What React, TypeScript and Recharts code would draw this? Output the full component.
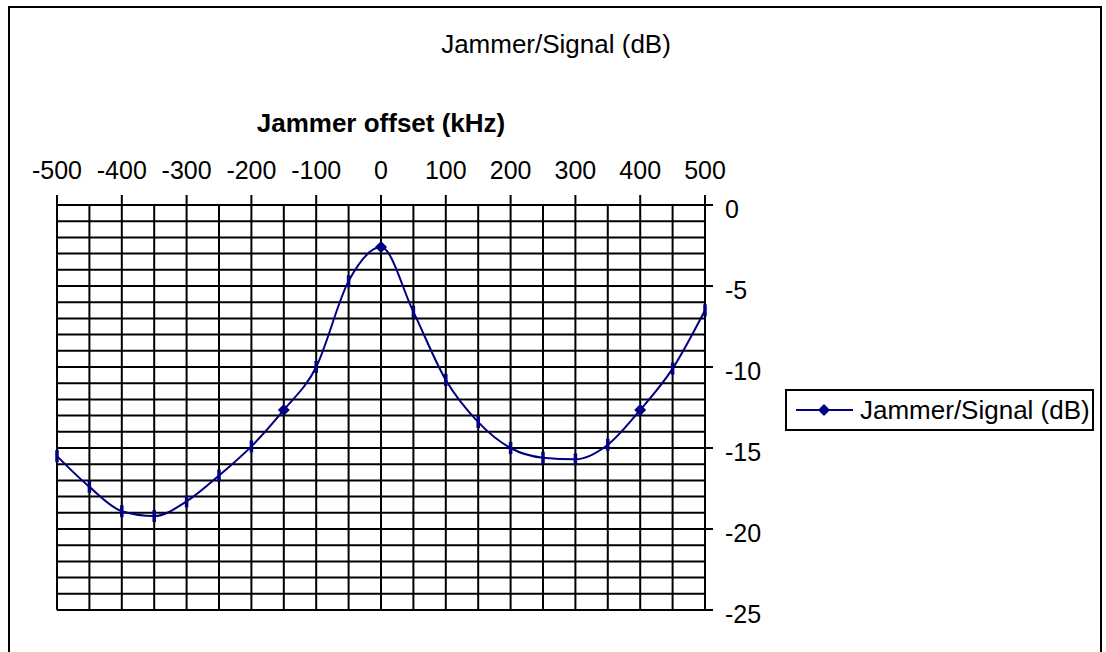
import { LineChart, Line, XAxis, YAxis, CartesianGrid } from "recharts";

// Jammer offset (kHz), one point every 50 kHz
const offsetKHz = [
  -500, -450, -400, -350, -300, -250, -200, -150, -100, -50, 0, 50, 100, 150,
  200, 250, 300, 350, 400, 450, 500,
];
const jammerSignalDb = [
  -15.5, -17.4, -18.9, -19.2, -18.3, -16.7, -14.9, -12.65, -10.0, -4.7, -2.6,
  -6.6, -10.8, -13.4, -15.0, -15.6, -15.7, -14.8, -12.65, -10.1, -6.5,
];

const xTicks = [-500, -400, -300, -200, -100, 0, 100, 200, 300, 400, 500];
const yTicks = [0, -5, -10, -15, -20, -25];
const yGridValues = [
  0, -1, -2, -3, -4, -5, -6, -7, -8, -9, -10, -11, -12, -13, -14, -15, -16,
  -17, -18, -19, -20, -21, -22, -23, -24, -25,
];

const SERIES_NAME = "Jammer/Signal (dB)";
const NAVY = "#000080";
const FONT = "'Liberation Sans', Arial, Helvetica, sans-serif";

// points that Excel drew with a full diamond, the rest look like dashes
const diamondAt = [-150, 0, 400];

const data = offsetKHz.map((x, i) => ({ offset: x, value: jammerSignalDb[i] }));

function renderDot(props: any) {
  const { cx, cy, payload, index } = props;
  if (cx == null || cy == null) return <g key={index} />;
  if (diamondAt.includes(payload.offset)) {
    return (
      <path
        key={index}
        d={`M${cx},${cy - 6}L${cx + 6},${cy}L${cx},${cy + 6}L${cx - 6},${cy}Z`}
        fill={NAVY}
      />
    );
  }
  return (
    <line
      key={index}
      x1={cx}
      x2={cx}
      y1={cy - 6}
      y2={cy + 6}
      stroke={NAVY}
      strokeWidth={3.5}
    />
  );
}

export default function App() {
  return (
    <div
      style={{
        position: "absolute",
        left: 0,
        top: 0,
        width: 1106,
        height: 652,
        overflow: "hidden",
        background: "#fff",
        fontFamily: FONT,
        color: "#000",
      }}
    >
      <div
        style={{
          position: "absolute",
          left: 8,
          top: 6,
          width: 1094,
          height: 700,
          border: "2px solid #000",
          boxSizing: "border-box",
        }}
      />
      <div
        style={{
          position: "absolute",
          left: 256,
          top: 29,
          width: 600,
          lineHeight: "30px",
          fontSize: 26,
          textAlign: "center",
        }}
      >
        {SERIES_NAME}
      </div>

      <LineChart
        width={1106}
        height={652}
        data={data}
        margin={{ top: 145, right: 321, bottom: 42, left: 57 }}
        style={{ position: "absolute", left: 0, top: 0 }}
      >
        <CartesianGrid
          stroke="#000"
          strokeWidth={2}
          verticalValues={offsetKHz}
          horizontalValues={yGridValues}
        />
        <XAxis
          dataKey="offset"
          type="number"
          orientation="top"
          domain={[-500, 500]}
          ticks={xTicks}
          interval={0}
          height={60}
          tickSize={10}
          tickMargin={16}
          axisLine={{ stroke: "#000", strokeWidth: 2 }}
          tickLine={{ stroke: "#000", strokeWidth: 2 }}
          tick={{ fill: "#000", fontSize: 25 }}
          label={{
            value: "Jammer offset (kHz)",
            position: "top",
            offset: 13,
            fill: "#000",
            fontSize: 26,
            fontWeight: "bold",
          }}
        />
        <YAxis
          type="number"
          orientation="right"
          domain={[-25, 0]}
          ticks={yTicks}
          interval={0}
          width={80}
          tickSize={8}
          tickMargin={12}
          axisLine={{ stroke: "#000", strokeWidth: 2 }}
          tickLine={{ stroke: "#000", strokeWidth: 2 }}
          tick={{ fill: "#000", fontSize: 25, dy: 4 }}
        />
        <Line
          type="monotone"
          dataKey="value"
          name={SERIES_NAME}
          stroke={NAVY}
          strokeWidth={2}
          dot={renderDot}
          activeDot={false}
          isAnimationActive={false}
        />
      </LineChart>

      <div
        style={{
          position: "absolute",
          left: 785,
          top: 389,
          width: 309,
          height: 42,
          border: "2px solid #000",
          boxSizing: "border-box",
          background: "#fff",
          display: "flex",
          alignItems: "center",
        }}
      >
        <svg width={60} height={20} style={{ marginLeft: 8, flex: "none" }}>
          <line x1={1} x2={58} y1={10} y2={10} stroke={NAVY} strokeWidth={2} />
          <path d="M29,4L35,10L29,16L23,10Z" fill={NAVY} />
        </svg>
        <span style={{ fontSize: 26, marginLeft: 5, whiteSpace: "nowrap" }}>
          {SERIES_NAME}
        </span>
      </div>
    </div>
  );
}
